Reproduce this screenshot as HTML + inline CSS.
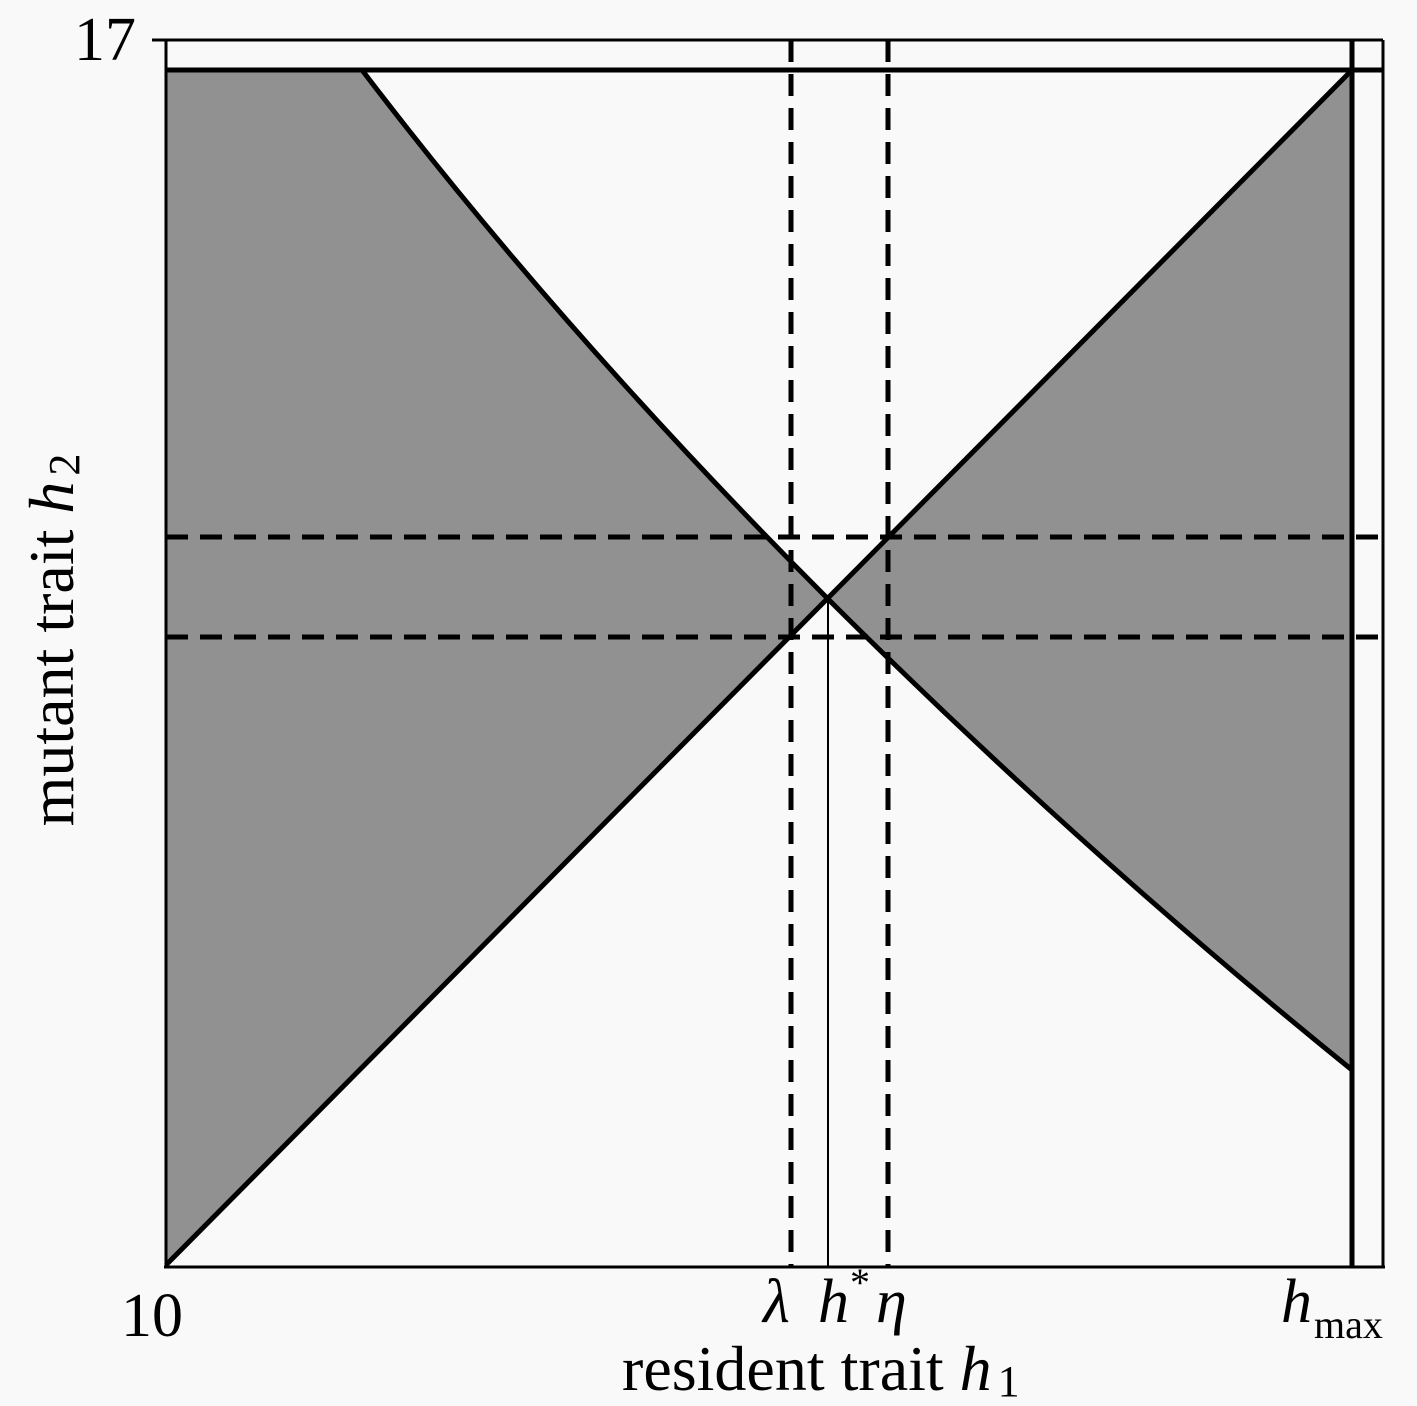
<!DOCTYPE html>
<html><head><meta charset="utf-8"><style>
html,body{margin:0;padding:0;background:#f9f9f9;}
svg{display:block;}
text{font-family:"Liberation Serif",serif;fill:#000;}
</style></head><body>
<svg width="1417" height="1406" viewBox="0 0 1417 1406" xmlns="http://www.w3.org/2000/svg">
<rect width="1417" height="1406" fill="#f9f9f9"/>
<path d="M166,70 L362,70 Q560,330 828,599 L166,1265 Z" fill="#919191"/>
<path d="M1352,70 L828,599 Q1080,850 1352,1070 Z" fill="#919191"/>
<line x1="152" y1="40" x2="1383" y2="40" stroke="#000" stroke-width="3"/>
<line x1="166" y1="40" x2="166" y2="1268" stroke="#000" stroke-width="3"/>
<line x1="1383" y1="40" x2="1383" y2="1268" stroke="#000" stroke-width="3"/>
<line x1="164" y1="1267" x2="1385" y2="1267" stroke="#000" stroke-width="3"/>
<line x1="166" y1="70" x2="1383" y2="70" stroke="#000" stroke-width="5"/>
<line x1="1352" y1="40" x2="1352" y2="1267" stroke="#000" stroke-width="5"/>
<path d="M362,70 Q560,330 828,599 Q1080,850 1352,1070" fill="none" stroke="#000" stroke-width="5"/>
<line x1="166" y1="1265" x2="1352" y2="70" stroke="#000" stroke-width="5"/>
<g stroke="#000" stroke-width="5" stroke-dasharray="22,12" fill="none">
<line x1="791" y1="40" x2="791" y2="1267"/>
<line x1="888" y1="40" x2="888" y2="1267"/>
<line x1="166" y1="537" x2="1383" y2="537"/>
<line x1="166" y1="637" x2="1383" y2="637"/>
</g>
<line x1="828" y1="599" x2="828" y2="1267" stroke="#000" stroke-width="2"/>
<text x="74" y="60" font-size="62">17</text>
<text x="121" y="1336" font-size="62">10</text>
<text x="763" y="1322" font-size="62" font-style="italic">λ</text>
<text x="818" y="1322" font-size="62" font-style="italic">h</text>
<text x="850" y="1296" font-size="40">*</text>
<text x="876" y="1322" font-size="62" font-style="italic">η</text>
<text x="1281" y="1322" font-size="62" font-style="italic">h</text>
<text x="1314" y="1338" font-size="40">max</text>
<text x="622" y="1390" font-size="64">resident trait <tspan font-style="italic">h</tspan><tspan font-size="44" dx="6" dy="6">1</tspan></text>
<text transform="translate(73,640) rotate(-90)" text-anchor="middle" font-size="64">mutant trait <tspan font-style="italic">h</tspan><tspan font-size="44" dx="6" dy="6">2</tspan></text>
</svg>
</body></html>
